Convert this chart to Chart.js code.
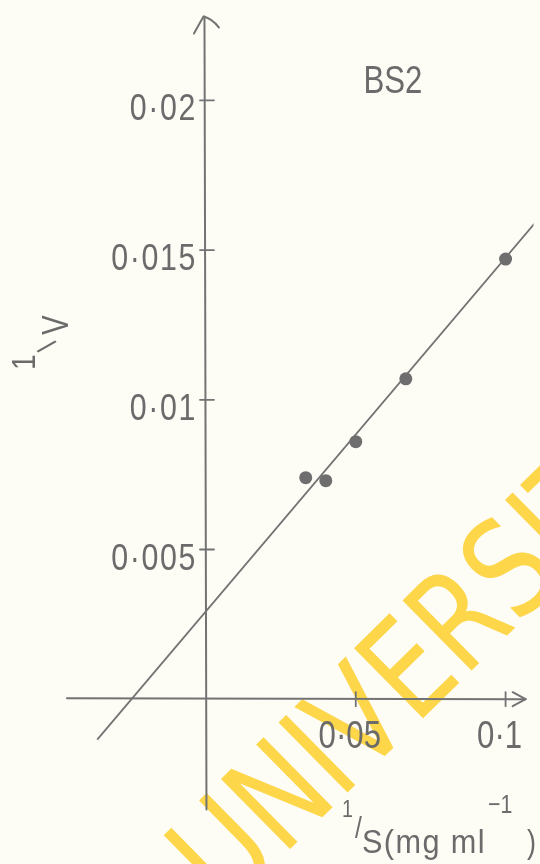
<!DOCTYPE html>
<html>
<head>
<meta charset="utf-8">
<script src="https://cdn.jsdelivr.net/npm/chart.js@4/dist/chart.umd.min.js"></script>
<style>
  html, body { margin: 0; padding: 0; background: #fdfcf5; }
  #wrap { width: 540px; height: 864px; position: relative; }
  canvas { display: block; }
</style>
</head>
<body>
<div id="wrap"><canvas id="lb" width="540" height="864"></canvas></div>
<script>
// Double-reciprocal (Lineweaver–Burk) plot, sample BS2
const invSubstrate = [0.0333, 0.04, 0.05, 0.0667, 0.1];        // 1/S
const invVelocity  = [0.0074, 0.0073, 0.0086, 0.0107, 0.0147]; // 1/V
const fitLineX = [-0.0363, 0.115];     // ends of the fitted straight line
const fitLineY = [-0.00135, 0.01652];
const xTickValues = [0.05, 0.1];
const xTickLabels = ['0·05', '0·1'];
const yTickValues = [0.005, 0.01, 0.015, 0.02];
const yTickLabels = ['0·005', '0·01', '0·015', '0·02'];
const plotTitle = 'BS2';
const stampText = 'UNIVERSITY';

const INK = '#6b6b6b';
const LINE_INK = '#737373';
const FACE = "'Liberation Sans', Arial, sans-serif";
const SQUEEZE = 0.82;   // stencil lettering is narrower than the font

// drawn extent of the two axes, in data units
const axisSpan = { xFrom: -0.0464, xTo: 0.1067, yFrom: -0.00368, yTo: 0.0228 };

// draw horizontally condensed text, returns its drawn width
function condensed(ctx, str, x, y, size, align, spacing, squeeze) {
  const k = squeeze || SQUEEZE;
  ctx.save();
  ctx.font = size + 'px ' + FACE;
  ctx.letterSpacing = (spacing || 0) + 'px';
  ctx.textAlign = 'left';
  ctx.textBaseline = 'alphabetic';
  const w = ctx.measureText(str).width * k;
  const left = align === 'right' ? x - w : align === 'center' ? x - w / 2 : x;
  ctx.translate(left, y);
  ctx.scale(k, 1);
  ctx.fillText(str, 0, 0);
  ctx.restore();
  return w;
}

const paper = {
  id: 'paper',
  beforeDraw(chart) {
    const ctx = chart.ctx;
    ctx.save();
    ctx.fillStyle = '#fdfcf5';
    ctx.fillRect(0, 0, chart.width, chart.height);
    // diagonal library stamp, tall narrow capitals
    ctx.translate(226, 912);
    ctx.rotate(-44.5 * Math.PI / 180);
    ctx.scale(0.8, 1);
    ctx.fillStyle = '#fdd64a';
    ctx.font = "135px 'DejaVu Sans'";
    ctx.textBaseline = 'alphabetic';
    ctx.textAlign = 'left';
    ctx.fillText(stampText, 0, 0);
    ctx.restore();
  }
};

const axesAndText = {
  id: 'axesAndText',
  beforeDatasetsDraw(chart) {
    const ctx = chart.ctx;
    const xs = chart.scales.x, ys = chart.scales.y;
    const x0 = xs.getPixelForValue(0), y0 = ys.getPixelForValue(0);
    ctx.save();
    ctx.strokeStyle = LINE_INK;
    ctx.lineWidth = 2;
    ctx.lineCap = 'round';
    ctx.lineJoin = 'round';

    // vertical axis with arrow
    const yTop = ys.getPixelForValue(axisSpan.yTo);
    ctx.beginPath();
    ctx.moveTo(x0 - 1.5, yTop);
    ctx.lineTo(x0 + 0.5, ys.getPixelForValue(axisSpan.yFrom));
    ctx.stroke();
    ctx.beginPath();
    ctx.moveTo(x0 - 12, yTop + 17);
    ctx.lineTo(x0 - 2.5, yTop);
    ctx.quadraticCurveTo(x0 + 6, yTop + 2, x0 + 13, yTop + 11);
    ctx.stroke();

    // horizontal axis with arrow
    const xEnd = xs.getPixelForValue(axisSpan.xTo);
    ctx.beginPath();
    ctx.moveTo(xs.getPixelForValue(axisSpan.xFrom), y0 - 1);
    ctx.lineTo(xEnd, y0);
    ctx.stroke();
    ctx.beginPath();
    ctx.moveTo(xEnd - 13, y0 - 7);
    ctx.lineTo(xEnd, y0);
    ctx.lineTo(xEnd - 13, y0 + 7);
    ctx.stroke();

    // tick marks crossing the axes
    ctx.lineWidth = 1.8;
    yTickValues.forEach(v => {
      const py = ys.getPixelForValue(v);
      ctx.beginPath(); ctx.moveTo(x0 - 6, py); ctx.lineTo(x0 + 8, py); ctx.stroke();
    });
    xTickValues.forEach(v => {
      const px = xs.getPixelForValue(v);
      ctx.beginPath(); ctx.moveTo(px, y0 - 7); ctx.lineTo(px, y0 + 7); ctx.stroke();
    });

    ctx.fillStyle = INK;

    // tick labels
    yTickValues.forEach((v, i) => {
      condensed(ctx, yTickLabels[i], x0 - 9, ys.getPixelForValue(v) + 20, 37, 'right', 2);
    });
    xTickValues.forEach((v, i) => {
      condensed(ctx, xTickLabels[i], xs.getPixelForValue(v) - 6, y0 + 49, 38, 'center');
    });

    // title
    condensed(ctx, plotTitle, 393, 93, 38, 'center');

    // y-axis title: ¹/V written sideways
    ctx.save();
    ctx.translate(68, 372);
    ctx.rotate(-Math.PI / 2);
    condensed(ctx, '1', 2, -33, 34, 'left');
    condensed(ctx, 'V', 37, 0, 36, 'left');
    ctx.restore();
    ctx.save();
    ctx.translate(45, 348);
    ctx.rotate(45 * Math.PI / 180);
    ctx.font = '28px ' + FACE;
    ctx.textAlign = 'center';
    ctx.textBaseline = 'middle';
    ctx.fillText('/', 0, 0);
    ctx.restore();

    // x-axis title: ¹/S(mg ml⁻¹)
    condensed(ctx, '1', 342, 817, 24, 'left');
    condensed(ctx, '/', 355, 838, 30, 'left');
    const w = condensed(ctx, 'S(mg ml', 362, 853, 33, 'left', 1.5, 0.93);
    condensed(ctx, '\u22121', 362 + w + 2, 813, 26, 'left');
    condensed(ctx, ')', 527, 853, 33, 'left');

    ctx.restore();
  }
};

const points = invSubstrate.map((x, i) => ({ x, y: invVelocity[i] }));
const fitLine = fitLineX.map((x, i) => ({ x, y: fitLineY[i] }));

new Chart(document.getElementById('lb'), {
  type: 'scatter',
  data: {
    datasets: [
      {
        label: 'measured',
        data: points,
        pointRadius: 6.5,
        pointBackgroundColor: '#6e6e6e',
        pointBorderColor: '#6e6e6e',
        pointBorderWidth: 0,
        showLine: false
      },
      {
        label: 'fit',
        data: fitLine,
        showLine: true,
        pointRadius: 0,
        borderColor: LINE_INK,
        borderWidth: 1.8,
        fill: false
      }
    ]
  },
  options: {
    responsive: false,
    devicePixelRatio: 1,
    animation: false,
    layout: { padding: 0 },
    plugins: { legend: { display: false }, tooltip: { enabled: false }, title: { display: false } },
    scales: {
      x: { type: 'linear', display: false, min: -0.06658, max: 0.10932 },
      y: { type: 'linear', display: false, min: -0.005286, max: 0.023135 }
    }
  },
  plugins: [paper, axesAndText]
});
</script>
</body>
</html>
